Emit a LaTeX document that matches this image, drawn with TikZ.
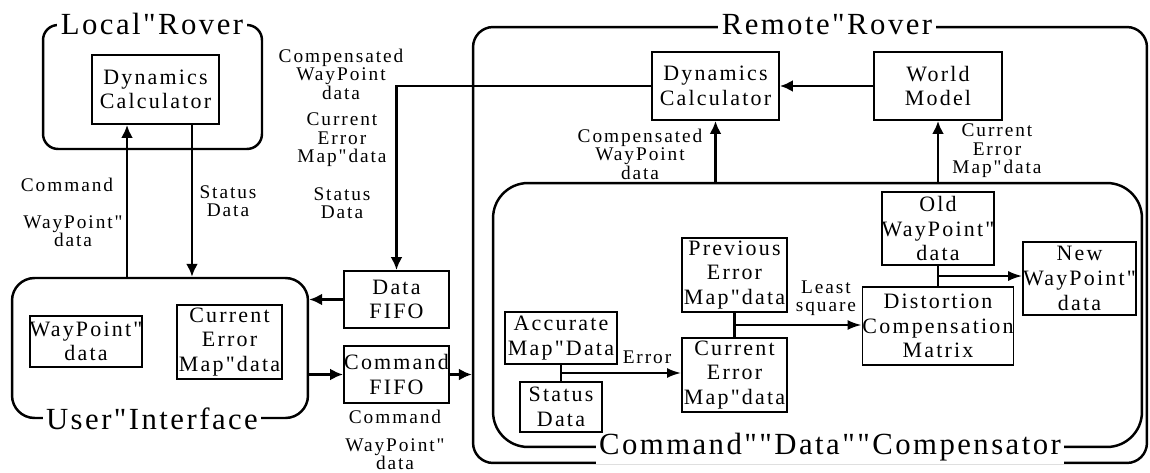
\documentclass[tikz,border=0pt]{standalone}
\usepackage{fontspec}
\setmainfont{Liberation Serif}
\newfontfamily\boxfam[LetterSpace=10]{Liberation Serif}
\newfontfamily\lblfam[LetterSpace=10]{Liberation Serif}
\newfontfamily\ttlfam[LetterSpace=8]{Liberation Serif}
\usetikzlibrary{calc,arrows.meta}
\tikzset{
  blk/.style={draw,line width=1.1pt,inner sep=0pt,align=center,font=\boxfam\fontsize{12.5}{14}\selectfont},
  grp/.style={draw,line width=1.4pt,inner sep=0pt},
  ttl/.style={fill=white,inner sep=2pt,font=\ttlfam\fontsize{17.5}{20}\selectfont},
  lbl/.style={align=center,inner sep=0pt,font=\lblfam\fontsize{11}{10.5}\selectfont},
  conn/.style={line width=1.6pt,-{Latex[length=0.26cm,width=0.24cm]}},
  link/.style={line width=1.2pt},
  linkarr/.style={line width=1.2pt,-{Latex[length=0.28cm,width=0.2cm]}},
}
\begin{document}
\begin{tikzpicture}[x=0.02cm,y=-0.02cm]
  \useasboundingbox (0,0) rectangle (1150,473);
  % containers
  \node[grp,rounded corners=0.3cm,minimum width=4.38cm,minimum height=2.48cm] (local) at (152.5,87) {};
  \node[grp,rounded corners=0.45cm,minimum width=5.92cm,minimum height=2.8cm] (ui) at (160,348) {};
  \node[grp,rounded corners=0.4cm,minimum width=13.48cm,minimum height=8.72cm] (remote) at (810,245) {};
  \node[grp,rounded corners=0.7cm,minimum width=12.98cm,minimum height=5.28cm] (cdc) at (817.5,315) {};
  \node[ttl] (localt) at (152,24) {Local"Rover};
  \node[ttl] (uit) at (152,419) {User"Interface};
  \node[ttl] (remotet) at (827,25) {Remote"Rover};
  \node[ttl] (cdct) at (830,447) {Command""Data""Compensator};
  % blocks
  \node[blk,minimum width=2.54cm,minimum height=1.38cm] (ldyn) at (155.5,89.5) {Dynamics\\Calculator};
  \node[blk,minimum width=2.08cm,minimum height=1.02cm] (uiwp) at (86,341.5) {WayPoint"\\data};
  \node[blk,minimum width=2.1cm,minimum height=1.48cm] (uicur) at (229.5,342) {Current\\Error\\Map"data};
  \node[blk,minimum width=2.1cm,minimum height=1.14cm] (dfifo) at (396.5,299.5) {Data\\FIFO};
  \node[blk,minimum width=2.1cm,minimum height=1.14cm] (cfifo) at (396.5,374.5) {Command\\FIFO};
  \node[blk,minimum width=2.54cm,minimum height=1.36cm] (rdyn) at (715.5,86) {Dynamics\\Calculator};
  \node[blk,minimum width=2.56cm,minimum height=1.36cm] (world) at (938,86) {World\\Model};
  \node[blk,minimum width=2.24cm,minimum height=1.04cm] (acc) at (561,338) {Accurate\\Map"Data};
  \node[blk,minimum width=1.64cm,minimum height=1cm] (stat) at (561,407) {Status\\Data};
  \node[blk,minimum width=2.1cm,minimum height=1.48cm] (prev) at (734.5,275) {Previous\\Error\\Map"data};
  \node[blk,minimum width=2.1cm,minimum height=1.48cm] (cur) at (734.5,375) {Current\\Error\\Map"data};
  \node[blk,minimum width=2.9cm,minimum height=1.56cm] (dcm) at (938,326) {Distortion\\Compensation\\Matrix};
  \node[blk,minimum width=2.22cm,minimum height=1.46cm] (old) at (938,228.5) {Old\\WayPoint"\\data};
  \node[blk,minimum width=2.1cm,minimum height=1.46cm] (new) at (1079.5,278.5) {New\\WayPoint"\\data};
  % labels
  \node[lbl] (cmdl) at (67,185) {Command};
  \node[lbl] (cmdwpl) at (73,231) {WayPoint"\\data};
  \node[lbl] (statl) at (228,201) {Status\\Data};
  \node[lbl] (compl) at (341,74) {Compensated\\WayPoint\\data};
  \node[lbl] (curl) at (342,140) {Current\\Error\\Map"data};
  \node[lbl] (statl2) at (342,203) {Status\\Data};
  \node[lbl] (fifol) at (395,417) {Command};
  \node[lbl] (fifowpl) at (395,454) {WayPoint"\\data};
  \node[lbl] (rcompl) at (640,154) {Compensated\\WayPoint\\data};
  \node[lbl] (rcurl) at (997,151) {Current\\Error\\Map"data};
  \node[lbl] (errl) at (647,357) {Error};
  \node[lbl] (lsl) at (826,298) {Least\\square};
  % connectors
  \coordinate (cmdup) at ([xshift=-0.57cm]ldyn.south);
  \coordinate (stdown) at ([xshift=0.73cm]ldyn.south);
  \draw[conn] (ui.north -| cmdup) -- (cmdup);
  \draw[conn] (stdown) -- (ui.north -| stdown);
  \draw[conn] (dfifo.west) -- (dfifo.west -| ui.east);
  \draw[conn] (cfifo.west -| ui.east) -- (cfifo.west);
  \draw[conn] (cfifo.east) -- (cfifo.east -| remote.west);
  \draw[conn] (rdyn.west) -| (dfifo.north);
  \draw[conn] (world.west) -- (rdyn.east);
  \draw[conn] (rdyn.south |- cdc.north) -- (rdyn.south);
  \draw[conn] (world.south |- cdc.north) -- (world.south);
  % inside compensator
  \draw[link] (acc.south) -- (stat.north);
  \coordinate (errj) at ($(acc.south)!0.5!(stat.north)$);
  \draw[linkarr] (errj) -- (errj -| cur.west);
  \draw[link] (prev.south) -- (cur.north);
  \coordinate (lsj) at ($(prev.south)!0.5!(cur.north)$);
  \draw[linkarr] (lsj) -- (lsj -| dcm.west);
  \draw[link] (old.south) -- (dcm.north);
  \coordinate (nwj) at ($(old.south)!0.5!(dcm.north)$);
  \draw[linkarr] (nwj) -- (nwj -| new.west);
\end{tikzpicture}
\end{document}
